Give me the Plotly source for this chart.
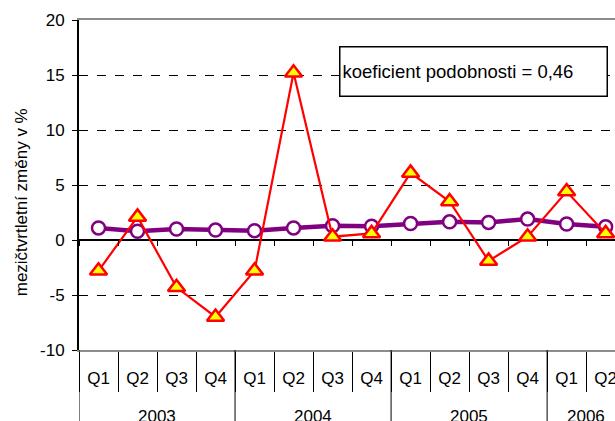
import plotly.graph_objects as go

years = ["2003"] * 4 + ["2004"] * 4 + ["2005"] * 4 + ["2006"] * 2
quarters = ["Q1", "Q2", "Q3", "Q4"] * 3 + ["Q1", "Q2"]
red_series = [-2.8, 2.1, -4.3, -7.0, -2.8, 15.2, 0.3, 0.6, 6.1, 3.5, -1.9, 0.3, 4.4, 0.6]
purple_series = [1.1, 0.8, 1.0, 0.9, 0.85, 1.1, 1.3, 1.25, 1.5, 1.65, 1.6, 1.9, 1.45, 1.2]
y_ticks = [-10, -5, 0, 5, 10, 15, 20]
y_tick_labels = ["-10", "-5", "0", "5", "10", "15", "20"]
note_text = "koeficient podobnosti = 0,46"
y_title = "mezičtvrtletní změny v %"

FONT = "Liberation Sans, Arial, sans-serif"

categories = [f"{q} {y}" for q, y in zip(quarters, years)]
idx = list(range(len(categories)))

fig = go.Figure()
fig.add_trace(go.Scatter(
    x=categories, y=purple_series, mode="lines+markers",
    line=dict(color="#800080", width=4.5),
    marker=dict(symbol="circle", size=13, color="white", line=dict(color="#800080", width=2.5)),
    showlegend=False, cliponaxis=False,
))
fig.add_trace(go.Scatter(
    x=categories, y=red_series, mode="lines+markers",
    line=dict(color="#ff0000", width=2.2),
    marker=dict(symbol="triangle-up", size=15, color="#ffff00", line=dict(color="#ff0000", width=2.5)),
    showlegend=False, cliponaxis=False,
))
# invisible trace on xaxis2 so the tick axis at y=0 is drawn
fig.add_trace(go.Scatter(x=categories, y=purple_series, xaxis="x2", mode="none",
                         showlegend=False, hoverinfo="skip"))

x_range = [-0.5, 13.24]

# year group labels and dividers
unique_years = []
for y in years:
    if y not in unique_years:
        unique_years.append(y)
annotations = []
shapes = []
for yr in unique_years:
    pos = [i for i, y in zip(idx, years) if y == yr]
    center = (pos[0] + pos[-1]) / 2
    annotations.append(dict(text=yr, x=center, xref="x", y=-0.2, yref="paper",
                            xanchor="center", yanchor="middle", showarrow=False,
                            font=dict(size=17)))
    shapes.append(dict(type="line", xref="x", yref="paper", x0=pos[0] - 0.5, x1=pos[0] - 0.5,
                       y0=0, y1=-0.3, line=dict(color="black", width=1)))

annotations.append(dict(
    text=note_text, xref="paper", yref="paper", x=0.485, y=0.921,
    xanchor="left", yanchor="top", showarrow=False, align="left",
    width=262, height=44, borderpad=2,
    bordercolor="black", borderwidth=1.5, bgcolor="white",
    font=dict(size=18.5),
))
annotations.append(dict(
    text=y_title, xref="paper", yref="paper", x=-0.108, y=0.448,
    xanchor="center", yanchor="middle", textangle=-90, showarrow=False,
    font=dict(size=17),
))

fig.update_layout(
    width=615, height=421,
    margin=dict(l=79, r=0, t=20, b=71),
    plot_bgcolor="white", paper_bgcolor="white",
    font=dict(family=FONT, size=17, color="black"),
    xaxis=dict(
        type="category", range=x_range, automargin=False,
        tickmode="array", tickvals=categories, ticktext=quarters,
        showline=True, linecolor="#8c8c8c", linewidth=2, mirror=True,
        ticks="outside", tickson="boundaries", ticklen=40, tickcolor="black", tickwidth=1,
        showgrid=False, tickfont=dict(size=17), ticklabelstandoff=12,
    ),
    xaxis2=dict(
        type="category", overlaying="x", anchor="free", position=1 / 3,
        range=x_range, matches="x", automargin=False,
        showline=False, showticklabels=False,
        ticks="outside", tickson="boundaries", ticklen=5, tickcolor="black", tickwidth=1,
        showgrid=False,
    ),
    yaxis=dict(
        range=[-10, 20], tickmode="array", tickvals=y_ticks, ticktext=y_tick_labels,
        automargin=False,
        showline=True, linecolor="black", linewidth=2,
        ticks="outside", ticklen=5, tickcolor="black",
        showgrid=True, gridcolor="black", griddash="dash", gridwidth=1,
        zeroline=True, zerolinecolor="black", zerolinewidth=1.5,
        tickfont=dict(size=17), ticklabelstandoff=4,
    ),
    annotations=annotations,
    shapes=shapes,
)

fig.write_html(
    "out.html",
    config={"displayModeBar": False},
    post_script="document.body.style.margin='0';document.body.style.overflow='hidden';",
)
